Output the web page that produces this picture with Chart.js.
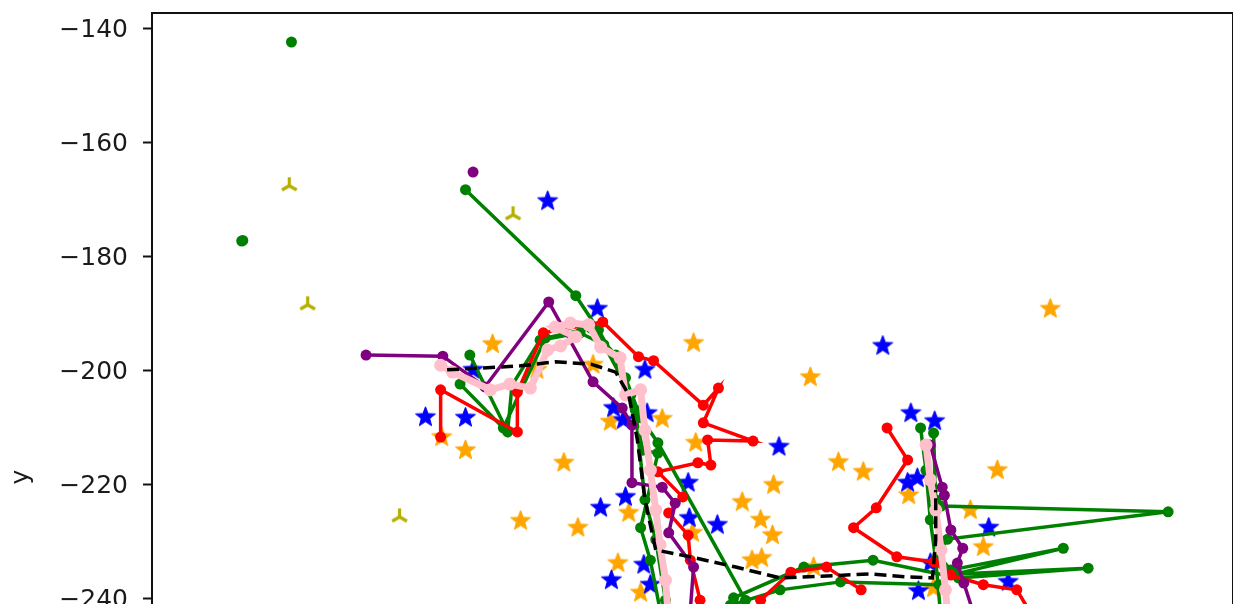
<!DOCTYPE html>
<html>
<head>
<meta charset="utf-8">
<script src="https://cdn.jsdelivr.net/npm/chart.js@4/dist/chart.umd.min.js"></script>
<style>
  html, body { margin: 0; padding: 0; background: #fff; overflow: hidden; }
  #wrap { width: 1233px; height: 1010px; position: relative; }
</style>
</head>
<body>
<div id="wrap"><canvas id="c"></canvas></div>
<script>
// ---- axis ticks ----
const yTickValues = [-140, -160, -180, -200, -220, -240, -260, -280, -300];
const xTickValues = [0, 20, 40, 60, 80, 100];

// ---- isolated points ----
const greenDotsX = [12.9, 8.3, 8.4];
const greenDotsY = [-142.3, -177.2, -177.1];
const purpleDotX = [29.7];
const purpleDotY = [-165.1];
const triX = [12.7, 14.4, 33.4, 22.9];
const triY = [-167.5, -188.4, -172.6, -225.6];

// ---- tracks (purple) ----
const purpleAX = [19.8, 26.9, 30.8, 36.7, 40.8, 43.5, 44.4, 44.4, 47.2, 48.4, 47.8, 50.1, 49.8, 52.0];
const purpleAY = [-197.2, -197.4, -202.8, -187.9, -201.9, -206.5, -209.5, -219.6, -220.4, -223.2, -228.4, -234.4, -241.9, -250.0];
const purpleBX = [72.0, 73.1, 73.3, 73.9, 75.0, 74.5, 75.1, 76.2];
const purpleBY = [-213.0, -220.4, -221.8, -227.9, -231.1, -233.7, -237.2, -243.7];

// ---- tracks (red) ----
const redAX = [26.7, 26.7, 33.8, 33.8, 36.2, 41.7, 45.0, 46.4, 51.0, 52.4, 51.0, 55.6, 51.4, 51.7, 50.5, 46.8, 49.1, 47.8, 49.6, 49.8, 50.7, 51.2];
const redAY = [-211.6, -203.3, -210.7, -203.7, -193.3, -191.4, -197.5, -198.2, -206.0, -203.0, -209.1, -212.3, -212.1, -216.5, -216.1, -217.7, -222.1, -224.9, -228.8, -233.2, -240.2, -247.2];
const redBX = [68.0, 69.9, 67.0, 64.9, 68.9, 72.3, 73.9, 76.9, 80.0, 82.2];
const redBY = [-210.0, -215.6, -224.0, -227.5, -232.6, -233.5, -235.8, -237.5, -238.4, -245.4];
const redCX = [56.3, 59.1, 62.4, 65.6];
const redCY = [-240.2, -235.3, -234.4, -238.4];

// ---- tracks (green) ----
const greenAX = [29.0, 39.2, 41.3, 43.8, 45.2, 46.8, 54.9, 57.2];
const greenAY = [-168.2, -186.8, -192.8, -201.2, -208.2, -212.6, -240.2, -249.0];
const greenBX = [29.4, 32.9, 33.3, 35.9, 39.6, 41.8, 44.3, 45.4, 46.8, 45.2, 46.1, 47.0];
const greenBY = [-197.2, -210.7, -202.5, -194.6, -193.3, -195.4, -204.2, -213.9, -214.4, -227.5, -233.2, -241.9];
const greenCX = [28.5, 32.5, 36.4, 40.6, 42.9, 44.7, 45.6, 46.6, 47.5];
const greenCY = [-202.3, -210.0, -194.2, -192.5, -197.2, -206.8, -222.6, -229.6, -240.2];
const greenDX = [71.1, 71.6, 72.0, 72.5, 73.0];
const greenDY = [-210.0, -217.4, -226.1, -233.2, -243.7];
const greenEX = [72.3, 72.5, 73.0, 94.0, 73.6, 72.7, 73.9, 84.3, 74.4, 86.6, 74.6, 66.7, 60.3, 53.8, 52.6];
const greenEY = [-210.9, -222.6, -223.7, -224.7, -229.5, -232.3, -234.9, -231.1, -235.6, -234.6, -236.3, -233.2, -234.4, -239.8, -247.2];
const greenFX = [72.8, 63.7, 58.1, 53.5];
const greenFY = [-237.5, -237.0, -238.4, -241.1];

// ---- tracks (pink) ----
const pinkAX = [26.7, 27.8, 31.3, 33.1, 35.0, 36.6, 37.8, 39.2, 37.3, 38.7, 40.4, 41.5, 43.3, 43.8, 45.2, 45.6, 46.1, 46.6, 47.0, 47.5, 47.8];
const pinkAY = [-199.0, -200.2, -203.3, -202.3, -203.0, -196.3, -195.6, -194.0, -192.3, -191.6, -191.9, -195.8, -197.7, -204.2, -203.3, -210.4, -217.4, -224.4, -230.5, -236.7, -243.7];
const pinkBX = [71.6, 72.0, 72.5, 73.0, 73.4, 73.7];
const pinkBY = [-213.0, -219.1, -224.4, -231.4, -238.4, -245.4];

// ---- mean path (dashed) ----
const meanX = [27.3, 34.1, 37.3, 40.6, 42.9, 44.1, 44.9, 45.6, 46.6, 49.8, 54.0, 58.1, 61.9, 66.5, 69.7, 72.2, 72.5, 72.5];
const meanY = [-199.8, -199.1, -198.4, -198.8, -200.2, -204.2, -212.1, -222.6, -231.4, -232.6, -234.4, -236.3, -236.0, -235.6, -236.1, -236.3, -229.6, -220.9];

// ---- star markers ----
const blueStarX = [36.6, 41.2, 45.6, 29.7, 25.3, 29.0, 42.7, 43.6, 45.8, 67.6, 58.0, 70.2, 72.4, 49.6, 43.8, 41.5, 49.7, 52.3, 69.9, 70.8, 45.5, 42.5, 46.1, 70.9, 72.0, 77.4, 79.2];
const blueStarY = [-170.2, -189.1, -199.8, -199.8, -208.1, -208.2, -206.5, -208.6, -207.4, -195.6, -213.3, -207.4, -208.8, -219.6, -222.1, -224.0, -225.8, -227.0, -219.6, -218.8, -234.0, -236.7, -237.5, -238.6, -233.7, -227.5, -237.0];
const orangeStarX = [31.5, 35.6, 40.8, 29.0, 26.8, 42.4, 47.2, 50.1, 60.9, 50.3, 38.1, 63.5, 65.8, 57.5, 54.6, 44.1, 56.3, 39.4, 34.1, 57.4, 50.0, 43.1, 55.5, 56.4, 70.0, 83.1, 78.2, 75.7, 76.9, 45.2, 61.2, 72.3];
const orangeStarY = [-195.3, -199.8, -198.9, -213.9, -211.6, -208.9, -208.4, -195.1, -201.1, -212.6, -216.1, -216.0, -217.7, -220.0, -223.0, -224.9, -226.1, -227.5, -226.3, -228.8, -228.4, -233.7, -233.2, -232.8, -221.8, -189.1, -217.4, -224.4, -230.9, -238.9, -234.4, -238.1];

// ---- marker images ----
function starMarker(color, R) {
  const size = Math.ceil(2 * R + 2);
  const cv = document.createElement('canvas');
  cv.width = size; cv.height = size;
  const g = cv.getContext('2d');
  const c = size / 2, r = R * 0.42;
  g.beginPath();
  for (let i = 0; i < 10; i++) {
    const rad = i % 2 === 0 ? R : r;
    const a = -Math.PI / 2 + i * Math.PI / 5;
    const px = c + rad * Math.cos(a), py = c + rad * Math.sin(a);
    if (i === 0) g.moveTo(px, py); else g.lineTo(px, py);
  }
  g.closePath();
  g.fillStyle = color;
  g.fill();
  g.strokeStyle = color; g.lineWidth = 1; g.lineJoin = 'round';
  g.stroke();
  return cv;
}
function triUpMarker(color, R, lw) {
  const size = Math.ceil(2 * R + 4);
  const cv = document.createElement('canvas');
  cv.width = size; cv.height = size;
  const g = cv.getContext('2d');
  const c = size / 2;
  g.strokeStyle = color; g.lineWidth = lw; g.lineCap = 'butt';
  g.beginPath();
  g.moveTo(c, c); g.lineTo(c, c - R);
  g.moveTo(c, c); g.lineTo(c - R * 0.866, c + R * 0.5);
  g.moveTo(c, c); g.lineTo(c + R * 0.866, c + R * 0.5);
  g.stroke();
  return cv;
}

const zip = (xs, ys) => xs.map((x, i) => ({ x: x, y: ys[i] }));

const GREEN = '#008000', RED = '#ff0000', PURPLE = '#800080', PINK = '#ffc0cb';
const BLUE = '#0000ff', ORANGE = '#ffa500', OLIVE = '#b5b000';

function track(xs, ys, color, order, extra) {
  return Object.assign({
    data: zip(xs, ys), showLine: true, borderColor: color, backgroundColor: color,
    borderWidth: 3.5, pointRadius: 5.5, pointBorderWidth: 0, pointBackgroundColor: color,
    tension: 0, order: order
  }, extra || {});
}
function dots(xs, ys, color, order, style, radius) {
  return {
    data: zip(xs, ys), showLine: false, borderColor: color, backgroundColor: color,
    pointRadius: radius, pointBorderWidth: 0, pointBackgroundColor: color,
    pointStyle: style, order: order
  };
}

const datasets = [
  track(meanX, meanY, '#000000', 0, { borderDash: [12, 6], borderWidth: 3.5, pointRadius: 0 }),
  track(pinkAX, pinkAY, PINK, 1, { borderWidth: 7, pointRadius: 6.5 }),
  track(pinkBX, pinkBY, PINK, 1, { borderWidth: 7, pointRadius: 6.5 }),
  track(purpleAX, purpleAY, PURPLE, 2),
  track(purpleBX, purpleBY, PURPLE, 2),
  dots(purpleDotX, purpleDotY, PURPLE, 2, 'circle', 5.5),
  track(redAX, redAY, RED, 3),
  track(redBX, redBY, RED, 3),
  track(redCX, redCY, RED, 3),
  track(greenAX, greenAY, GREEN, 4),
  track(greenBX, greenBY, GREEN, 4),
  track(greenCX, greenCY, GREEN, 4),
  track(greenDX, greenDY, GREEN, 4),
  track(greenEX, greenEY, GREEN, 4),
  track(greenFX, greenFY, GREEN, 4),
  dots(greenDotsX, greenDotsY, GREEN, 4, 'circle', 5.5),
  dots(triX, triY, OLIVE, 5, triUpMarker(OLIVE, 8.5, 3.2), 8),
  dots(blueStarX, blueStarY, BLUE, 6, starMarker(BLUE, 10.5), 10),
  dots(orangeStarX, orangeStarY, ORANGE, 7, starMarker(ORANGE, 10.5), 10)
];

const frame = {
  id: 'frame',
  afterDatasetsDraw(chart) {
    const { ctx, chartArea: a } = chart;
    ctx.save();
    ctx.strokeStyle = '#111';
    ctx.lineWidth = 2;
    ctx.strokeRect(a.left, a.top, a.right - a.left, a.bottom - a.top);
    ctx.restore();
  }
};

const tickFont = { family: 'DejaVu Sans', size: 25 };
const fmt = v => (v < 0 ? '\u2212' : '') + Math.abs(v);

new Chart(document.getElementById('c'), {
  type: 'scatter',
  data: { datasets: datasets },
  options: {
    responsive: true,
    maintainAspectRatio: false,
    animation: false,
    events: [],
    layout: { autoPadding: false, padding: { left: 0, top: 13, right: 0, bottom: 9 } },
    plugins: { legend: { display: false }, tooltip: { enabled: false } },
    scales: {
      x: {
        type: 'linear', min: 0, max: 100,
        afterBuildTicks: s => { s.ticks = xTickValues.map(v => ({ value: v })); },
        afterFit: s => { s.height = 60; s.paddingLeft = 0; s.paddingRight = 0; },
        border: { display: false },
        grid: { drawOnChartArea: false, tickLength: 9, tickWidth: 2, color: '#111' },
        ticks: { font: tickFont, color: '#1a1a1a', padding: 6, callback: fmt, maxRotation: 0 },
        title: { display: true, text: 'x', font: tickFont, color: '#1a1a1a', padding: 2 }
      },
      y: {
        type: 'linear', min: -300, max: -137.2,
        afterBuildTicks: s => { s.ticks = yTickValues.map(v => ({ value: v })); },
        afterFit: s => { s.width = 152; s.paddingTop = 0; s.paddingBottom = 0; },
        border: { display: false },
        grid: { drawOnChartArea: false, tickLength: 9, tickWidth: 2, color: '#111' },
        ticks: { font: tickFont, color: '#1a1a1a', padding: 15, labelOffset: 2, callback: fmt },
        title: { display: true, text: 'y', font: tickFont, color: '#1a1a1a', padding: { top: 6, bottom: 0 } }
      }
    }
  },
  plugins: [frame]
});
</script>
</body>
</html>
